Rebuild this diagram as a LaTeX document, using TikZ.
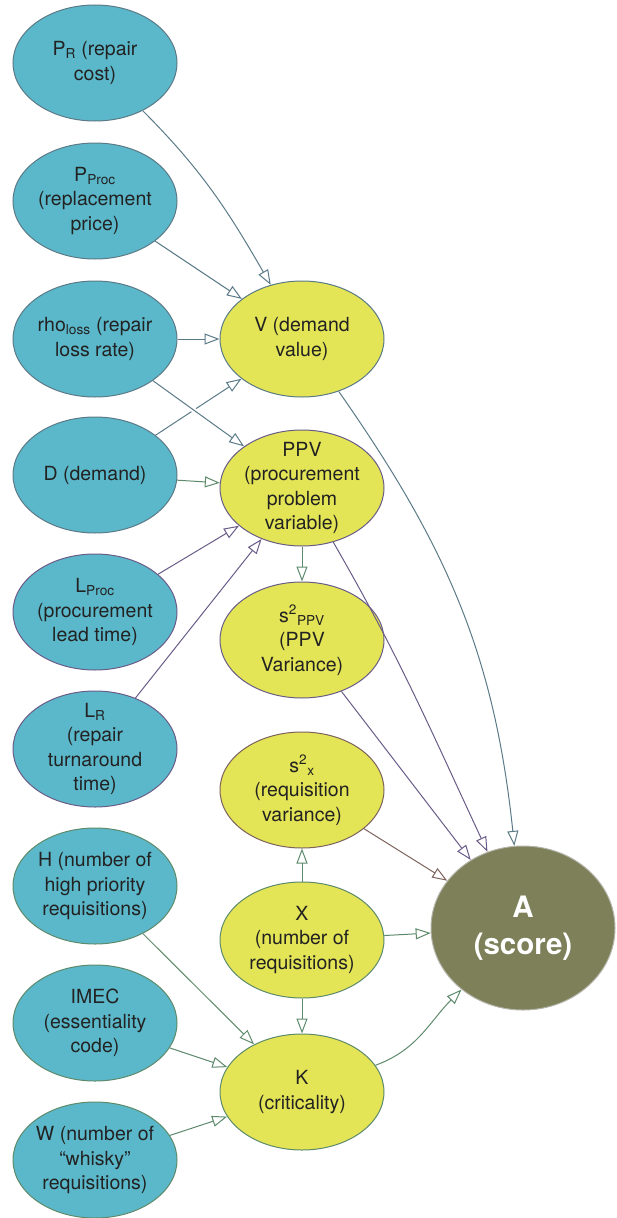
\documentclass[tikz,border=0pt]{standalone}
\usepackage{fontspec}
\setmainfont{TeX Gyre Heros}
\usepackage[rgb]{xcolor}
\usetikzlibrary{shapes.geometric,arrows.meta}
\definecolor{var_blue}{HTML}{5BB8CA}
\definecolor{var_yellow}{HTML}{E3E456}
\definecolor{score_olive}{HTML}{7D8058}
\definecolor{score_rim}{HTML}{B4B4AA}
\definecolor{line_slate}{HTML}{5B7A87}
\definecolor{line_purple}{HTML}{6A5C88}
\definecolor{line_green}{HTML}{5E8A6C}
\definecolor{line_brown}{HTML}{7D625C}
\definecolor{text_dark}{HTML}{222222}

\begin{document}
\begin{tikzpicture}[x=1pt, y=1pt,
    varnode/.style={ellipse, draw, line width=1pt, minimum width=164pt, minimum height=116pt,
        inner sep=-20pt, align=center, text=text_dark, font=\fontsize{19.5}{24.5}\selectfont},
    source/.style={varnode, fill=var_blue, draw=line_slate},
    derived/.style={varnode, fill=var_yellow},
    result/.style={ellipse, draw=score_rim, line width=1pt, fill=score_olive, minimum width=184pt,
        minimum height=164pt, inner sep=-20pt, align=center, text=white,
        font=\fontsize{29.5}{37}\selectfont\bfseries},
    link/.style={line width=1pt, -{Triangle[open, length=15pt, width=11pt]}}
  ]
    \useasboundingbox (0,0) rectangle (616,-1218);

    % inputs
    \node[source] (pR) at (95,-63) {P\textsubscript{R} (repair\\cost)};
    \node[source] (pProc) at (95,-201) {P\textsubscript{Proc}\\(replacement\\price)};
    \node[source] (rho) at (95,-339) {rho\textsubscript{loss} (repair\\loss rate)};
    \node[source] (dem) at (95,-475) {D (demand)};
    \node[source, draw=line_purple] (lProc) at (95,-612) {L\textsubscript{Proc}\\(procurement\\lead time)};
    \node[source, draw=line_purple] (lR) at (95,-749) {L\textsubscript{R}\\(repair\\turnaround\\time)};
    \node[source, draw=line_green] (hPrio) at (95,-886) {H (number of\\high priority\\requisitions)};
    \node[source, draw=line_green] (imec) at (95,-1023) {IMEC\\(essentiality\\code)};
    \node[source, draw=line_green] (wReq) at (95,-1160) {W (number of\\“whisky”\\requisitions)};

    % derived
    \node[derived, draw=line_slate] (val) at (302,-339) {V (demand\\value)};
    \node[derived, draw=line_purple] (ppv) at (302,-488) {PPV\\(procurement\\problem\\variable)};
    \node[derived, draw=line_purple] (sPPV) at (302,-640) {s\textsuperscript{2}\textsubscript{PPV}\\(PPV\\Variance)};
    \node[derived, draw=line_brown] (sX) at (302,-790) {s\textsuperscript{2}\textsubscript{x}\\(requisition\\variance)};
    \node[derived, draw=line_green] (numX) at (302,-940) {X\\(number of\\requisitions)};
    \node[derived, draw=line_green] (crit) at (302,-1092) {K\\(criticality)};

    \node[result] (score) at (523,-928) {A\\(score)};

    \draw[link, line_slate] (pR) to[out=-45, in=120] (val);
    \draw[link, line_slate] (pProc) -- (val);
    \draw[link, line_slate] (rho) -- (val);
    \draw[link, line_slate] (dem) -- (val);
    \draw[link, line_slate, preaction={draw=white, line width=5pt, -, shorten <=25pt, shorten >=25pt}] (rho) -- (ppv);
    \draw[link, line_green] (dem) -- (ppv);
    \draw[link, line_purple] (lProc) -- (ppv);
    \draw[link, line_purple] (lR) -- (ppv);
    \draw[link, line_green] (ppv) -- (sPPV);

    \draw[link, line_slate] (val) to[out=-55, in=96] (score);
    \draw[link, line_purple] (ppv) to[out=-60, in=115] (score);
    \draw[link, line_purple] (sPPV) -- (score);
    \draw[link, line_brown] (sX) -- (score);
    \draw[link, line_green] (numX) -- (sX);
    \draw[link, line_green] (numX) -- (score);
    \draw[link, line_green] (numX) -- (crit);
    \draw[link, line_green] (crit) to[out=20, in=225] (score);

    \draw[link, line_green] (hPrio) -- (crit);
    \draw[link, line_green] (imec) -- (crit);
    \draw[link, line_green] (wReq) -- (crit);
\end{tikzpicture}
\end{document}
